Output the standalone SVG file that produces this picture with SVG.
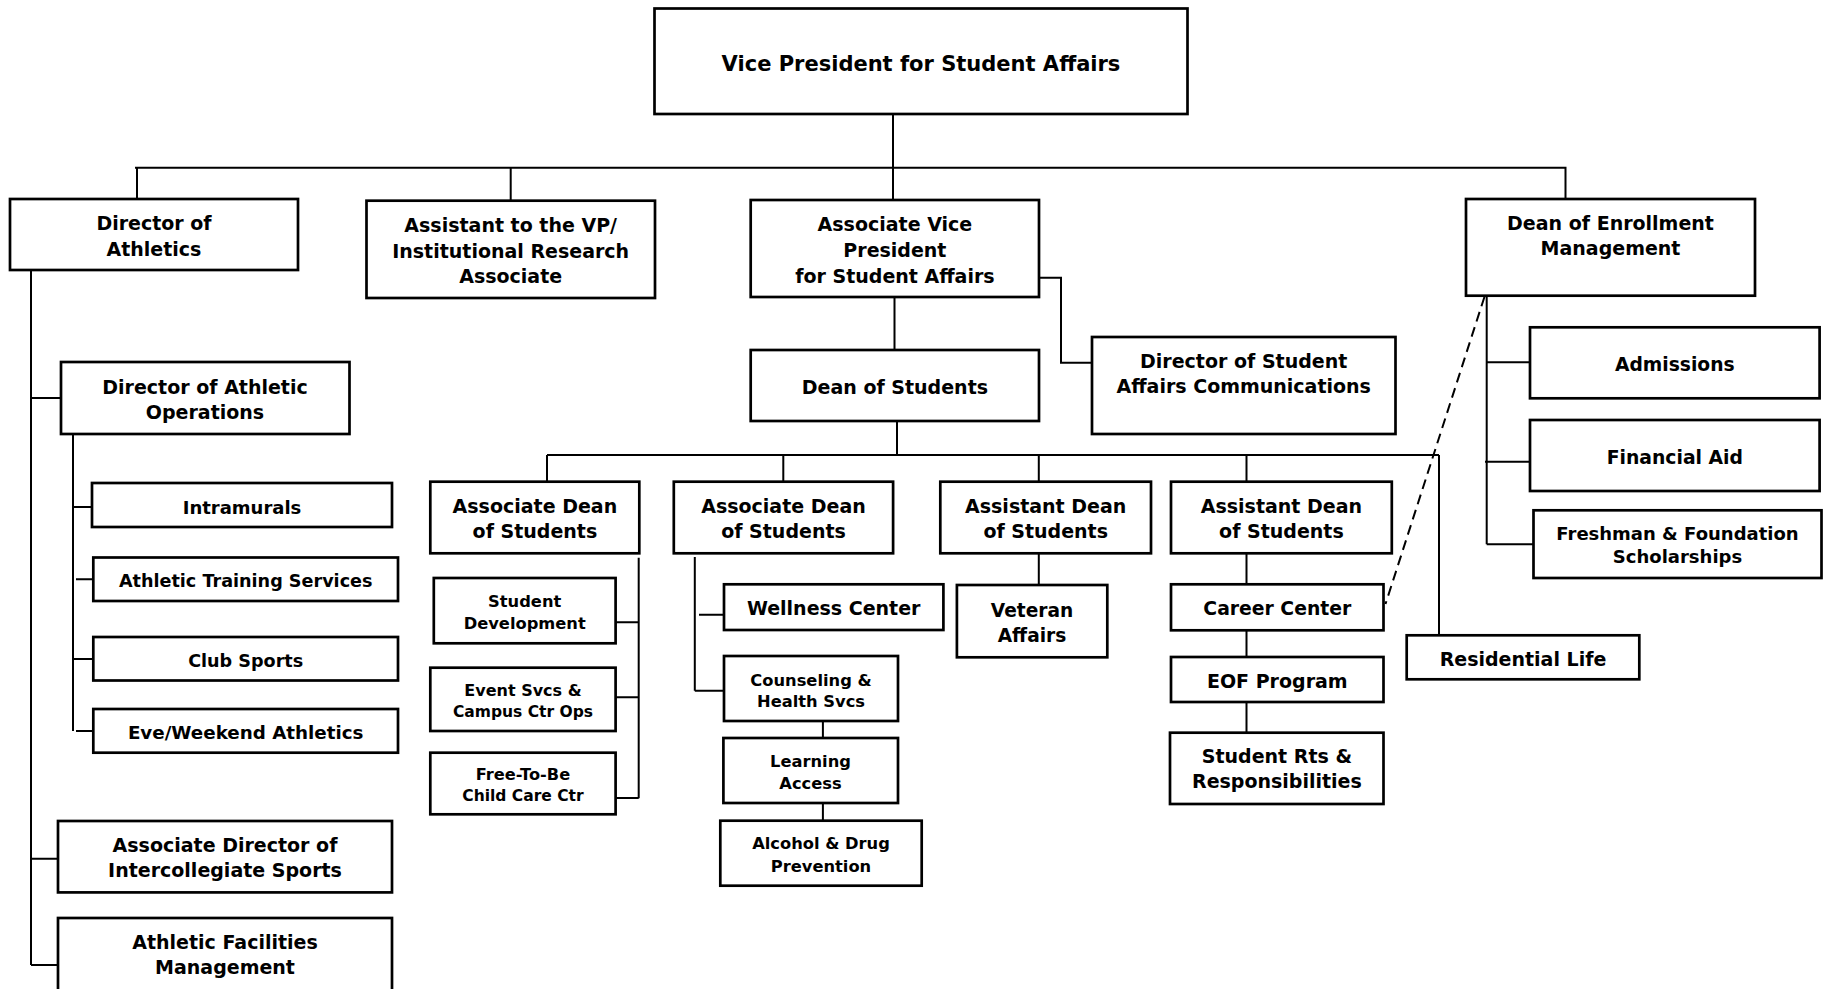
<svg xmlns="http://www.w3.org/2000/svg" width="1829" height="989" viewBox="0 0 1829 989">
<style>
.box{fill:#fff;stroke:#000;stroke-width:2.7}
.ln{stroke:#000;stroke-width:2;fill:none}
.dash{stroke:#000;stroke-width:2;fill:none;stroke-dasharray:10 6}
text{font-family:"DejaVu Sans",Verdana,sans-serif;font-weight:bold;text-anchor:middle;fill:#000}
.s21{font-size:21px}.s19{font-size:19px}.s18{font-size:18px}.s17{font-size:17px}.s16{font-size:16.3px}.s15{font-size:15.5px}
</style>
<rect width="1829" height="989" fill="#fff"/>
<g id="connectors">
<path class="ln" d="M893 114V200M135 167.7H1566.5M137 167.7V199M510.7 167.7V200.7M1565.5 167.7V199"/>
<path class="ln" d="M1039 277.7H1061V362.7H1092M894.5 297V350M897 421V455M547 455H1439M547 455V481.7M783.3 455V481.7M1038.8 455V481.7M1246.5 455V481.7M1439 455V635.3"/>
<path class="ln" d="M31 270V965M31 398H61M73 434V731M73 507H92M76 579.3H93.3M73 659H93.3M76 731H93.3M31 858.7H58M31 965H58"/>
<path class="ln" d="M638.7 557.7V798.3M615.6 622.3H638.7M615.6 697.3H638.7M615.6 798H638.7"/>
<path class="ln" d="M694.8 557V690.7M699 614.7H724M694.8 690.7H724M822.9 721V738M822.9 803V820.7"/>
<path class="ln" d="M1038.8 553.3V585M1246.5 553.3V584.3M1246.5 630.3V657M1246.5 702V732.7"/>
<path class="ln" d="M1486.7 295.7V544.3M1486.7 362.3H1530M1485 461.7H1530M1486.7 544.3H1533.5"/>
<path class="dash" d="M1484.5 296.7L1385.5 604"/>
</g>
<g id="vp"><rect class="box" x="654.5" y="8.5" width="533" height="105.5"/><text class="s21" x="921" y="70.5">Vice President for Student Affairs</text></g>
<g id="dir-athletics"><rect class="box" x="10" y="199" width="288" height="71"/><text class="s19" x="154" y="230">Director of</text><text class="s19" x="154" y="255.7">Athletics</text></g>
<g id="asst-vp"><rect class="box" x="366.5" y="200.7" width="288.5" height="97.3"/><text class="s19" x="510.7" y="232.3">Assistant to the VP/</text><text class="s19" x="510.7" y="258.3">Institutional Research</text><text class="s19" x="510.7" y="283.3">Associate</text></g>
<g id="avp"><rect class="box" x="750.7" y="200" width="288.3" height="97"/><text class="s19" x="894.9" y="230.7">Associate Vice</text><text class="s19" x="894.9" y="256.7">President</text><text class="s19" x="894.9" y="282.7">for Student Affairs</text></g>
<g id="dean-enrollment"><rect class="box" x="1466" y="199" width="289" height="96.7"/><text class="s19" x="1610.5" y="230">Dean of Enrollment</text><text class="s19" x="1610.5" y="255">Management</text></g>
<g id="dir-sac"><rect class="box" x="1092" y="337" width="303.5" height="97"/><text class="s19" x="1243.7" y="368.3">Director of Student</text><text class="s19" x="1243.7" y="393.3">Affairs Communications</text></g>
<g id="dean-students"><rect class="box" x="750.7" y="350" width="288.3" height="71"/><text class="s19" x="894.9" y="394.3">Dean of Students</text></g>
<g id="dir-ath-ops"><rect class="box" x="61" y="362" width="288.5" height="72"/><text class="s19" x="205" y="394.3">Director of Athletic</text><text class="s19" x="205" y="418.5">Operations</text></g>
<g id="admissions"><rect class="box" x="1530" y="327.3" width="289.6" height="71"/><text style="font-size:18.7px" x="1674.8" y="370.7">Admissions</text></g>
<g id="financial-aid"><rect class="box" x="1530" y="420" width="289.6" height="71"/><text style="font-size:18.8px" x="1674.8" y="464">Financial Aid</text></g>
<g id="freshman"><rect class="box" x="1533.5" y="510.3" width="288" height="67.7"/><text class="s18" x="1677.5" y="540">Freshman &amp; Foundation</text><text class="s18" x="1677.5" y="563.3">Scholarships</text></g>
<g id="intramurals"><rect class="box" x="92" y="483" width="300" height="44"/><text class="s18" x="242" y="513.6">Intramurals</text></g>
<g id="ats"><rect class="box" x="93.3" y="557.5" width="304.7" height="43.5"/><text style="font-size:17.6px" x="245.7" y="587.3">Athletic Training Services</text></g>
<g id="club-sports"><rect class="box" x="93.3" y="637" width="304.7" height="43.5"/><text style="font-size:17.6px" x="245.7" y="666.7">Club Sports</text></g>
<g id="eve-weekend"><rect class="box" x="93.3" y="709" width="304.7" height="43.7"/><text style="font-size:18.3px" x="245.7" y="739.3">Eve/Weekend Athletics</text></g>
<g id="assoc-dir-sports"><rect class="box" x="58" y="821" width="334" height="71.4"/><text class="s19" x="225" y="851.8">Associate Director of</text><text class="s19" x="225" y="876.5">Intercollegiate Sports</text></g>
<g id="facilities"><rect class="box" x="58" y="918" width="334" height="90"/><text class="s19" x="225" y="948.7">Athletic Facilities</text><text class="s19" x="225" y="974.4">Management</text></g>
<g id="assoc-dean-1"><rect class="box" x="430.3" y="481.7" width="209" height="71.6"/><text class="s19" x="534.9" y="513.3">Associate Dean</text><text class="s19" x="534.9" y="538.3">of Students</text></g>
<g id="assoc-dean-2"><rect class="box" x="673.8" y="481.7" width="219.3" height="71.6"/><text class="s19" x="783.5" y="513.3">Associate Dean</text><text class="s19" x="783.5" y="538.3">of Students</text></g>
<g id="asst-dean-1"><rect class="box" x="940.3" y="481.7" width="210.7" height="71.6"/><text class="s19" x="1045.7" y="513.3">Assistant Dean</text><text class="s19" x="1045.7" y="537.7">of Students</text></g>
<g id="asst-dean-2"><rect class="box" x="1171" y="481.7" width="220.8" height="71.6"/><text class="s19" x="1281.4" y="513.3">Assistant Dean</text><text class="s19" x="1281.4" y="537.7">of Students</text></g>
<g id="student-dev"><rect class="box" x="433.8" y="578" width="181.8" height="65.3"/><text class="s16" x="524.7" y="606.7">Student</text><text class="s16" x="524.7" y="629">Development</text></g>
<g id="event-svcs"><rect class="box" x="430.3" y="667.7" width="185.3" height="63.3"/><text style="font-size:16px" x="523" y="696">Event Svcs &amp;</text><text class="s15" x="523" y="716.7">Campus Ctr Ops</text></g>
<g id="free-to-be"><rect class="box" x="430.3" y="752.7" width="185.3" height="61.6"/><text style="font-size:16.2px" x="523" y="780">Free-To-Be</text><text class="s15" x="523" y="800.7">Child Care Ctr</text></g>
<g id="wellness"><rect class="box" x="724" y="584.3" width="219.4" height="45.7"/><text class="s19" x="833.7" y="615">Wellness Center</text></g>
<g id="counseling"><rect class="box" x="724" y="656" width="174" height="65"/><text class="s16" x="811" y="685.7">Counseling &amp;</text><text class="s16" x="811" y="706.7">Health Svcs</text></g>
<g id="learning"><rect class="box" x="723.4" y="738" width="174.6" height="65"/><text class="s16" x="810.5" y="767.3">Learning</text><text class="s16" x="810.5" y="788.7">Access</text></g>
<g id="alcohol"><rect class="box" x="720.3" y="820.7" width="201.4" height="65"/><text class="s16" x="821" y="849">Alcohol &amp; Drug</text><text class="s16" x="821" y="871.7">Prevention</text></g>
<g id="veteran"><rect class="box" x="956.9" y="585" width="150.4" height="72.3"/><text style="font-size:18.6px" x="1032" y="617.3">Veteran</text><text style="font-size:18.6px" x="1032" y="641.7">Affairs</text></g>
<g id="career"><rect class="box" x="1171" y="584.3" width="212.5" height="46"/><text style="font-size:18.8px" x="1277.3" y="615">Career Center</text></g>
<g id="eof"><rect class="box" x="1171" y="657" width="212.5" height="45"/><text class="s19" x="1277.3" y="687.7">EOF Program</text></g>
<g id="student-rts"><rect class="box" x="1170" y="732.7" width="213.5" height="71.3"/><text class="s19" x="1276.9" y="763.3">Student Rts &amp;</text><text class="s19" x="1276.9" y="788.3">Responsibilities</text></g>
<g id="residential"><rect class="box" x="1406.7" y="635.3" width="232.6" height="44"/><text class="s19" x="1523" y="665.5">Residential Life</text></g>
</svg>
